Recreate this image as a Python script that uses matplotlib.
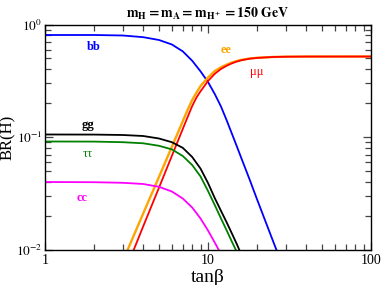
import matplotlib
matplotlib.use("Agg")
import matplotlib.pyplot as plt
from matplotlib.ticker import LogLocator, NullFormatter, FixedLocator

plt.rcParams['font.family'] = 'serif'
plt.rcParams['font.serif'] = ['Liberation Serif', 'DejaVu Serif']
plt.rcParams['mathtext.fontset'] = 'stix'

####################### Data ##################################################
# tan(beta) and BR(H) for each decay channel
tb_bb = [1, 2, 3, 4, 5, 6, 7, 8, 9, 10, 11, 12, 13, 14, 15, 16, 18, 20, 25, 30]
br_bb = [0.807, 0.807, 0.799, 0.772, 0.729, 0.665, 0.578, 0.477, 0.384, 0.309,
         0.242, 0.188, 0.142, 0.108, 0.0836, 0.0655, 0.0422, 0.0281, 0.0121, 0.00615]

tb_ee = [2.9, 3.21, 4, 5, 6, 7, 7.5, 8, 8.5, 9, 10, 11, 12, 13, 14, 15, 16, 18, 20, 25, 30, 40, 100]
br_ee = [0.0071, 0.010, 0.0210, 0.0444, 0.0823, 0.1385, 0.1752, 0.214, 0.2493, 0.2848,
         0.3388, 0.3869, 0.4172, 0.4408, 0.4603, 0.4746, 0.4853, 0.4994, 0.5066, 0.515,
         0.518, 0.5195, 0.520]

tb_mumu = [3.2, 3.5, 4, 5, 6, 7, 7.5, 8, 8.5, 9, 10, 11, 12, 13, 14, 15, 16, 18, 20, 25, 30, 40, 100]
br_mumu = [0.0073, 0.010, 0.01616, 0.0356, 0.0683, 0.1183, 0.1512, 0.1893, 0.2252, 0.2556,
           0.3153, 0.3652, 0.4030, 0.4301, 0.4519, 0.4688, 0.4815, 0.4974, 0.5056, 0.515,
           0.518, 0.5195, 0.520]

tb_gg = [1, 2, 3, 4, 5, 6, 7, 8, 9, 10, 11, 12, 13, 14, 15, 16, 17]
br_gg = [0.1058, 0.1056, 0.1047, 0.1026, 0.0975, 0.0904, 0.0806, 0.0668, 0.0527, 0.0393,
         0.0289, 0.02232, 0.01765, 0.01406, 0.01133, 0.00916, 0.0075]

tb_tautau = [1, 2, 3, 4, 5, 6, 7, 8, 9, 10, 11, 12, 13, 14, 15, 16]
br_tautau = [0.0917, 0.0915, 0.0904, 0.0884, 0.0840, 0.0781, 0.0682, 0.0567, 0.0449, 0.0334,
             0.02506, 0.01911, 0.01498, 0.01189, 0.00966, 0.0079]

tb_cc = [1, 2, 3, 4, 5, 6, 7, 8, 9, 10, 11, 12, 13]
br_cc = [0.04009, 0.03993, 0.03945, 0.03850, 0.03635, 0.03302, 0.02863, 0.02381, 0.01903,
         0.01489, 0.01165, 0.00922, 0.00744]

labels = ['bb', 'ee', 'μμ', 'gg', 'ττ', 'cc']
label_pos = [(2.0, 0.63), (12.96, 0.594), (19.8, 0.379), (1.845, 0.1276), (1.84, 0.0710), (1.68, 0.0289)]

####################### Create Plot #############################
fig = plt.figure(figsize=(3.82, 2.85), dpi=100)
ax = fig.add_axes([45/382, 1 - 250/285, 326/382, 225.5/285])

lw = 1.3
ax.plot(tb_bb, br_bb, color='#0000ff', lw=lw)
ax.plot(tb_ee, br_ee, color='#ffa500', lw=lw + 0.4)
ax.plot(tb_mumu, br_mumu, color='#ff0000', lw=lw)
ax.plot(tb_gg, br_gg, color='black', lw=lw)
ax.plot(tb_tautau, br_tautau, color='#008000', lw=lw)
ax.plot(tb_cc, br_cc, color='#ff00ff', lw=lw)

ax.set_xscale('log')
ax.set_yscale('log')
ax.set_xlim(1, 100)
ax.set_ylim(1e-2, 1)

colors = ['#0000ff', '#ffa500', '#ff0000', 'black', '#008000', '#ff00ff']
weights = ['bold', 'bold', 'normal', 'bold', 'normal', 'bold']
for lab, (x, y), c, w in zip(labels, label_pos, colors, weights):
    ax.text(x, y, lab, color=c, fontsize=9, fontweight=w, ha='center', va='center')

# ticks
ax.xaxis.set_major_locator(FixedLocator([1, 10, 100]))
ax.set_xticklabels(['1', '10', '100'])
ax.yaxis.set_major_locator(FixedLocator([1e-2, 1e-1, 1]))
ax.set_yticklabels([r'$10^{-2}$', r'$10^{-1}$', r'$10^{0}$'])
ax.xaxis.set_minor_locator(LogLocator(base=10, subs=range(2, 10)))
ax.yaxis.set_minor_locator(LogLocator(base=10, subs=range(2, 10)))
ax.xaxis.set_minor_formatter(NullFormatter())
ax.yaxis.set_minor_formatter(NullFormatter())
ax.tick_params(which='both', direction='in', top=True, right=True, labelsize=10, color='#444444')
ax.tick_params(which='major', length=6, width=0.9, pad=3)
ax.tick_params(axis='y', which='major', labelsize=9.5, pad=2)
ax.tick_params(which='minor', length=4, width=0.9)
for s in ax.spines.values():
    s.set_linewidth(1.0)

ax.set_xlabel('tanβ', fontsize=14, labelpad=1)
ax.set_ylabel('BR(H)', fontsize=12)
ax.yaxis.set_label_coords(-0.088, 0.5)
ax.set_title(r'$\mathbf{m_H = m_A = m_{H^+} = 150\ GeV}$', fontsize=10, pad=5)

fig.savefig('out.png', dpi=100)
